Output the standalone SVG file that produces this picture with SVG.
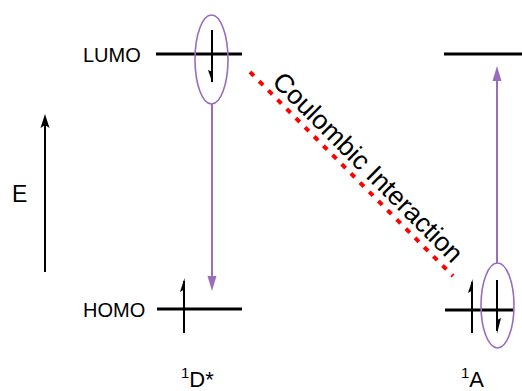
<svg xmlns="http://www.w3.org/2000/svg" width="522" height="391" viewBox="0 0 522 391">
<style>
text{font-family:"Liberation Sans",Arial,sans-serif;fill:#000}
.lvl{stroke:#000;stroke-width:3.2;fill:none}
.el{stroke:#000;stroke-width:2;fill:none}
.hd{fill:#000;stroke:none}
.orb{stroke:#9a6cbc;stroke-width:1.6;fill:none}
.tr{stroke:#9a6cbc;stroke-width:2;fill:none}
.trh{fill:#9a6cbc;stroke:none}
</style>
<rect width="522" height="391" fill="#fff"/>
<g id="energy-axis">
<line x1="45" y1="272" x2="45" y2="124" class="el"/>
<polygon points="45,114 40.5,128 45,125 49.5,128" class="hd"/>
<text x="12" y="202" font-size="23">E</text>
</g>
<g id="donor-lumo">
<text x="83" y="62" font-size="20">LUMO</text>
<line x1="156" y1="54" x2="242" y2="54" class="lvl"/>
<line x1="212" y1="30" x2="212" y2="82" class="el"/>
<polygon points="212.5,83 208,70 213,72" class="hd"/>
<ellipse cx="211.5" cy="59.5" rx="16.5" ry="44.5" class="orb"/>
</g>
<g id="donor-homo">
<text x="83" y="317" font-size="20">HOMO</text>
<line x1="157" y1="309" x2="242" y2="309" class="lvl"/>
<line x1="184" y1="281" x2="184" y2="333" class="el"/>
<polygon points="184.5,278 180,292 185,289" class="hd"/>
</g>
<g id="acceptor-lumo">
<line x1="444" y1="54" x2="522" y2="54" class="lvl"/>
</g>
<g id="acceptor-homo">
<line x1="445" y1="310" x2="513" y2="310" class="lvl"/>
<line x1="472" y1="282" x2="472" y2="333" class="el"/>
<polygon points="472.5,279 468,293 473,290" class="hd"/>
<line x1="497" y1="280" x2="497" y2="331" class="el"/>
<polygon points="497,334 497,320 501,318" class="hd"/>
<ellipse cx="497.5" cy="305.5" rx="16.5" ry="42.5" class="orb"/>
</g>
<g id="label-donor">
<text x="181" y="387" font-size="22"><tspan font-size="15" dy="-9">1</tspan><tspan dy="9">D*</tspan></text>
</g>
<g id="label-acceptor">
<text x="461" y="387" font-size="22"><tspan font-size="15" dy="-9">1</tspan><tspan dy="9">A</tspan></text>
</g>
<g id="connectors">
<line x1="212" y1="104" x2="212" y2="280" class="tr"/>
<polygon points="212,291 207.5,276 216.5,276" class="trh"/>
<line x1="497" y1="263" x2="497" y2="78" class="tr"/>
<polygon points="497,66 492.5,81 501.5,81" class="trh"/>
<line x1="250" y1="72" x2="453" y2="276" stroke="#ff0000" stroke-width="4" stroke-dasharray="5.5 7.5"/>
<text x="0" y="0" font-size="26.5" transform="translate(271,83) rotate(45)">Coulombic Interaction</text>
</g>
</svg>
